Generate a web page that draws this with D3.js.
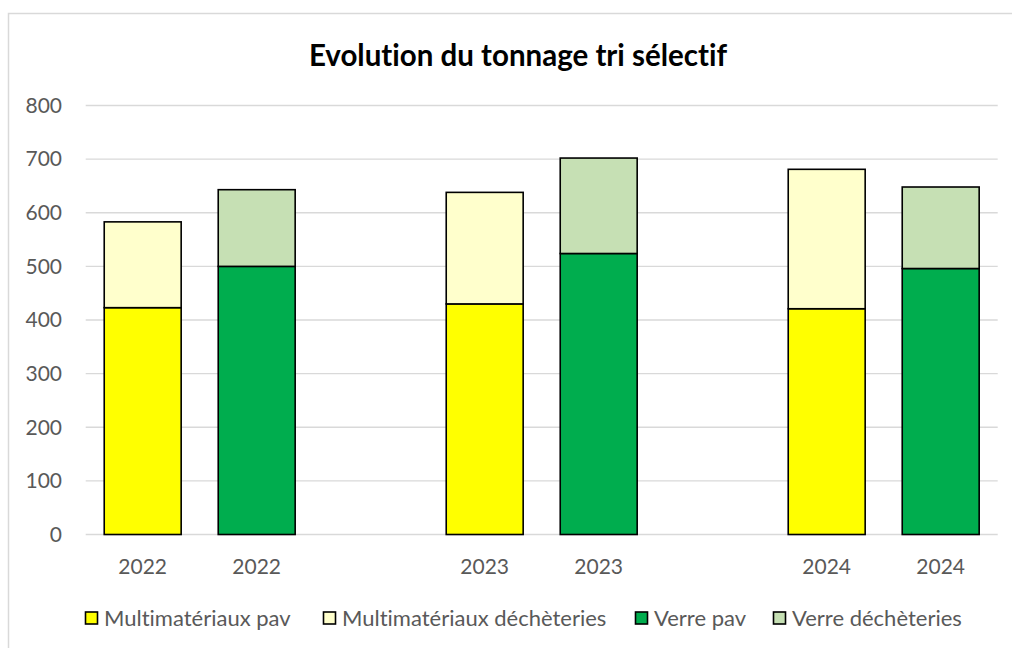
<!DOCTYPE html>
<html>
<head>
<meta charset="utf-8">
<script src="https://cdn.jsdelivr.net/npm/d3@7"></script>
<style>
  body { margin: 0; background: #fff; }
  text { font-family: Lato, "Open Sans", sans-serif; font-variant-ligatures: none; }
</style>
</head>
<body>
<div></div>
<script>
const WIDTH = 1012;
const HEIGHT = 648;

// données (tonnes)
const categories = ["2022", "2022", "", "2023", "2023", "", "2024", "2024"];
const multiPav = [423, 0, 0, 430, 0, 0, 421, 0];
const multiDech = [160, 0, 0, 208, 0, 0, 260, 0];
const verrePav = [0, 500, 0, 0, 524, 0, 0, 496];
const verreDech = [0, 143, 0, 0, 178, 0, 0, 152];
const yTicks = [0, 100, 200, 300, 400, 500, 600, 700, 800];

const seriesNames = ["Multimatériaux pav", "Multimatériaux déchèteries", "Verre pav", "Verre déchèteries"];
const colors = ["#ffff00", "#ffffcc", "#00ad4e", "#c6e0b4"];

const rows = categories.map((c, i) => ({
  i: i,
  s0: multiPav[i],
  s1: multiDech[i],
  s2: verrePav[i],
  s3: verreDech[i]
}));

const svg = d3.select("div").append("svg")
  .attr("width", WIDTH)
  .attr("height", HEIGHT);

// cadre du graphique
svg.append("rect")
  .attr("x", 8.5).attr("y", 13.5)
  .attr("width", 1020).attr("height", 660)
  .attr("fill", "#fff")
  .attr("stroke", "#d9d9d9")
  .attr("stroke-width", 1.5);

const x = d3.scaleBand()
  .domain(d3.range(categories.length))
  .range([85.7, 997.7])
  .paddingInner(0.325)
  .paddingOuter(0.1625);

const y = d3.scaleLinear().domain([0, 800]).range([534.5, 105.5]);

// grille
svg.append("g").selectAll("line")
  .data(yTicks)
  .enter().append("line")
  .attr("x1", 85.7).attr("x2", 997.7)
  .attr("y1", d => y(d)).attr("y2", d => y(d))
  .attr("stroke", "#d9d9d9")
  .attr("stroke-width", 1.3);

// étiquettes axe y
svg.append("g").selectAll("text")
  .data(yTicks)
  .enter().append("text")
  .attr("x", 62)
  .attr("y", d => y(d))
  .attr("dy", "0.35em")
  .attr("text-anchor", "end")
  .attr("fill", "#595959")
  .attr("font-size", 21)
  .text(d => d);

// étiquettes axe x
svg.append("g").selectAll("text")
  .data(categories)
  .enter().append("text")
  .attr("x", (d, i) => x(i) + x.bandwidth() / 2)
  .attr("y", 574)
  .attr("text-anchor", "middle")
  .attr("fill", "#595959")
  .attr("font-size", 21)
  .text(d => d);

const stack = d3.stack().keys(["s0", "s1", "s2", "s3"]);
const layers = stack(rows);

svg.append("g").selectAll("g")
  .data(layers)
  .enter().append("g")
  .attr("fill", (d, k) => colors[k])
  .selectAll("rect")
  .data(d => d.filter(p => p[1] - p[0] > 0))
  .enter().append("rect")
  .attr("x", d => x(d.data.i))
  .attr("width", x.bandwidth())
  .attr("y", d => y(d[1]))
  .attr("height", d => y(d[0]) - y(d[1]))
  .attr("stroke", "#000")
  .attr("stroke-width", 1.6);

// titre
svg.append("text")
  .attr("x", 518)
  .attr("y", 66)
  .attr("text-anchor", "middle")
  .attr("font-weight", "bold")
  .attr("font-size", 29.5)
  .attr("fill", "#000")
  .text("Evolution du tonnage tri sélectif");

// légende
const legendX = [85, 323, 635, 773];
const leg = svg.append("g").selectAll("g")
  .data(seriesNames)
  .enter().append("g")
  .attr("transform", (d, i) => `translate(${legendX[i]},618)`);

leg.append("rect")
  .attr("x", 0.5).attr("y", -6)
  .attr("width", 12).attr("height", 12)
  .attr("fill", (d, i) => colors[i])
  .attr("stroke", "#000")
  .attr("stroke-width", 1.6);

leg.append("text")
  .attr("x", 19)
  .attr("dy", "0.35em")
  .attr("fill", "#595959")
  .attr("font-size", 22)
  .text(d => d);
</script>
</body>
</html>
